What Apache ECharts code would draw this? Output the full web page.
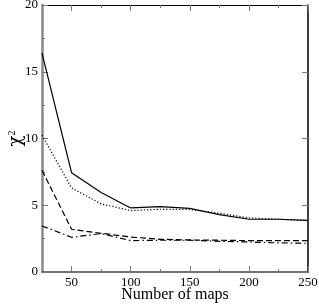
<!DOCTYPE html>
<html><head><meta charset="utf-8">
<script src="https://cdn.jsdelivr.net/npm/echarts@6/dist/echarts.min.js"></script>
<style>html,body{margin:0;padding:0;background:#fff}#c{width:319px;height:304px}</style>
</head><body><div id="c"></div>
<script>
const mapsCount = [25, 50, 75, 100, 125, 150, 175, 200, 225, 250];
const solidVals = [16.4, 7.44, 5.95, 4.8, 4.9, 4.77, 4.3, 3.95, 3.95, 3.87];
const dottedVals = [10.25, 6.3, 5.1, 4.6, 4.7, 4.68, 4.4, 4.05, 3.95, 3.85];
const dashedVals = [7.62, 3.2, 2.9, 2.62, 2.45, 2.4, 2.38, 2.35, 2.35, 2.35];
const dashDotVals = [3.45, 2.6, 2.88, 2.35, 2.38, 2.38, 2.3, 2.25, 2.18, 2.15];
const xMajorTicks = [50, 100, 150, 200, 250];
const xMinorTicks = [75, 125, 175, 225];
const yTicks = [0, 5, 10, 15, 20];

const FONT = '"Liberation Serif", "Times New Roman", serif';
function pts(v) { return mapsCount.map((x, i) => [x, v[i]]); }
function ser(v, type) {
  return { type: 'line', data: pts(v), symbol: 'none', xAxisIndex: 0, yAxisIndex: 0,
    lineStyle: { color: '#000', width: 1.2, type: type }, animation: false };
}
const xBase = { type: 'value', min: 25, max: 250, interval: 25, splitLine: { show: false } };
const chart = echarts.init(document.getElementById('c'));
chart.setOption({
  animation: false,
  grid: { left: 42, right: 11, top: 5, bottom: 32, containLabel: false, outerBoundsMode: 'none' },
  xAxis: [
    Object.assign({}, xBase, { position: 'bottom',
      name: 'Number of maps', nameLocation: 'middle', nameGap: 15, nameMoveOverlap: false,
      nameTextStyle: { fontFamily: FONT, fontSize: 16, color: '#000' },
      axisLine: { show: true, lineStyle: { color: '#444', width: 1.5 } },
      axisTick: { show: true, inside: true, length: 6, customValues: xMajorTicks, lineStyle: { color: '#777', width: 1 } },
      axisLabel: { show: true, customValues: xMajorTicks, margin: 4, fontFamily: FONT, fontSize: 13, color: '#000' } }),
    Object.assign({}, xBase, { position: 'bottom',
      axisLine: { show: false },
      axisTick: { show: true, inside: true, length: 3, customValues: xMinorTicks, lineStyle: { color: '#777', width: 1 } },
      axisLabel: { show: false } }),
    Object.assign({}, xBase, { position: 'top',
      axisLine: { show: true, lineStyle: { color: '#000', width: 1.2 } },
      axisTick: { show: true, inside: true, length: 6, customValues: xMajorTicks, lineStyle: { color: '#777', width: 1 } },
      axisLabel: { show: false } }),
    Object.assign({}, xBase, { position: 'top',
      axisLine: { show: false },
      axisTick: { show: true, inside: true, length: 3, customValues: xMinorTicks, lineStyle: { color: '#777', width: 1 } },
      axisLabel: { show: false } })
  ],
  yAxis: [
    { type: 'value', min: 0, max: 20, interval: 5, position: 'left', splitLine: { show: false },
      name: '{c|\u03c7}{s|2}', nameLocation: 'middle', nameGap: 17, nameRotate: 90, nameMoveOverlap: false,
      nameTextStyle: { fontFamily: FONT, fontSize: 18, color: '#000',
        rich: { c: { fontFamily: '"DejaVu Serif", serif', fontSize: 18, color: '#000' },
                s: { fontFamily: FONT, fontSize: 10, color: '#000', verticalAlign: 'top', padding: [0, 0, 4, 0] } } },
      axisLine: { show: true, lineStyle: { color: '#888', width: 2.5 } },
      axisTick: { show: true, inside: true, length: 6, lineStyle: { color: '#777', width: 1 } },
      minorTick: { show: true, splitNumber: 2, length: 3, lineStyle: { color: '#777', width: 1 } },
      axisLabel: { show: true, customValues: yTicks, margin: 4, fontFamily: FONT, fontSize: 13, color: '#000' } },
    { type: 'value', min: 0, max: 20, interval: 5, position: 'right', splitLine: { show: false },
      axisLine: { show: true, lineStyle: { color: '#000', width: 1.5 } },
      axisTick: { show: true, inside: true, length: 6, lineStyle: { color: '#777', width: 1 } },
      axisLabel: { show: false } }
  ],
  series: [
    ser(solidVals, 'solid'),
    ser(dottedVals, [1.2, 2]),
    ser(dashedVals, [6, 3]),
    ser(dashDotVals, [6, 3, 1.5, 3])
  ]
});
</script></body></html>
